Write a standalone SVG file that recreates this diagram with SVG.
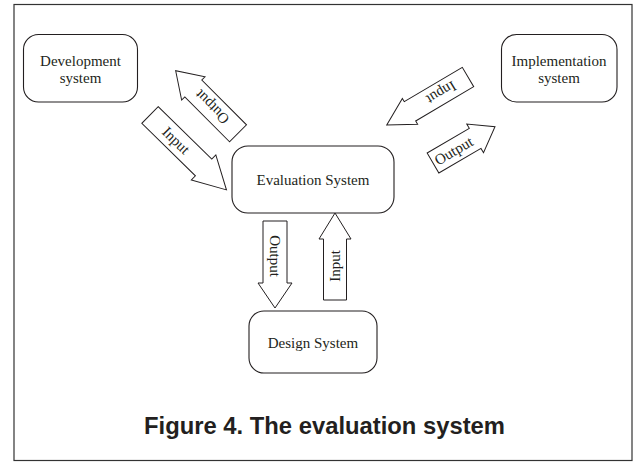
<svg xmlns="http://www.w3.org/2000/svg" width="637" height="462" viewBox="0 0 637 462">
<style>
.box{fill:#fff;stroke:#231f20;stroke-width:1.1}
.arr{fill:#fff;stroke:#231f20;stroke-width:1}
.t{font-family:"Liberation Serif","Times New Roman",serif;font-size:15px;fill:#231f20;text-anchor:middle}
.cap{font-family:"Liberation Sans",Arial,sans-serif;font-size:24px;font-weight:bold;fill:#231f20;text-anchor:middle}
</style>
<rect x="0" y="0" width="637" height="462" fill="#fff"/>
<rect id="frame" x="14" y="4.5" width="618" height="456" fill="none" stroke="#333" stroke-width="1.2"/>

<g id="development">
<rect class="box" x="23.5" y="34.5" width="114" height="67.5" rx="15"/>
<text class="t" x="80.5" y="66">Development</text>
<text class="t" x="80.5" y="83">system</text>
</g>
<g id="implementation">
<rect class="box" x="501.5" y="34.5" width="115.5" height="67.5" rx="15"/>
<text class="t" x="559" y="66">Implementation</text>
<text class="t" x="559" y="83">system</text>
</g>
<g id="evaluation">
<rect class="box" x="232" y="146" width="162" height="67" rx="16"/>
<text class="t" x="313" y="185">Evaluation System</text>
</g>
<g id="design">
<rect class="box" x="249" y="311" width="128" height="62" rx="15"/>
<text class="t" x="313" y="348">Design System</text>
</g>

<g id="connectors">
<g transform="translate(150,115) rotate(44.4)">
<path class="arr" d="M0,-11.7 H75 V-17.5 L107,0 L75,17.5 V11.7 H0 Z"/>
<text class="t" x="36.5" y="5">Input</text>
</g>
<g transform="translate(238,133.3) rotate(-134.9)">
<path class="arr" d="M0,-12 H63.3 V-16.5 L88.3,0 L63.3,16.5 V12 H0 Z"/>
<text class="t" x="37" y="5">Output</text>
</g>
<g transform="translate(468,77) rotate(149.4)">
<path class="arr" d="M0,-11.2 H67.4 V-15 L94.4,0 L67.4,15 V11.2 H0 Z"/>
<text class="t" x="31" y="5">Input</text>
</g>
<g transform="translate(433,163) rotate(-30.3)">
<path class="arr" d="M0,-11.6 H48.8 V-16.6 L71.8,0 L48.8,16.6 V11.6 H0 Z"/>
<text class="t" x="24" y="5">Output</text>
</g>
<g transform="translate(275,221) rotate(90)">
<path class="arr" d="M0,-12 H62 V-17 L87,0 L62,17 V12 H0 Z"/>
<text class="t" x="35" y="5">Output</text>
</g>
<g transform="translate(335,300) rotate(-90)">
<path class="arr" d="M0,-11.5 H61 V-16 L87,0 L61,16 V11.5 H0 Z"/>
<text class="t" x="34" y="5">Input</text>
</g>
</g>

<text class="cap" x="324.5" y="434" textLength="361" lengthAdjust="spacingAndGlyphs">Figure 4. The evaluation system</text>
</svg>
